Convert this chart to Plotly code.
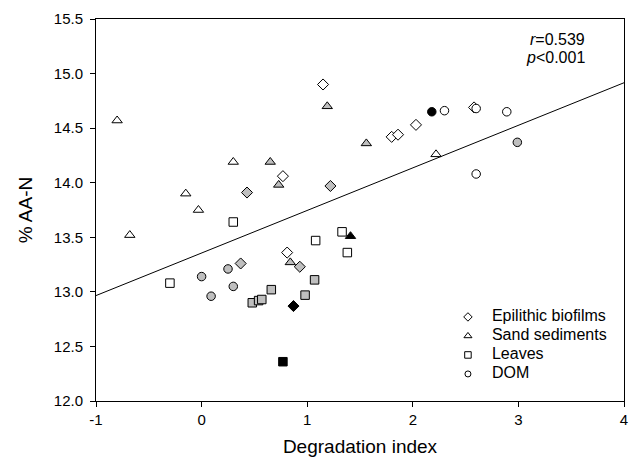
import plotly.graph_objects as go

# ---- data ----
epi_x = [1.15, 0.77, 0.81, 1.80, 1.86, 2.03, 2.58, 0.43, 1.22, 0.37, 0.93, 0.87]
epi_y = [14.90, 14.06, 13.36, 14.42, 14.44, 14.53, 14.69, 13.91, 13.97, 13.26, 13.23, 12.87]
epi_fill = ["open"] * 7 + ["gray"] * 4 + ["black"]

sand_x = [-0.80, 0.30, -0.15, -0.03, -0.68, 2.22, 1.19, 0.65, 0.73, 1.56, 0.84, 1.41]
sand_y = [14.57, 14.19, 13.90, 13.75, 13.52, 14.26, 14.70, 14.19, 13.98, 14.36, 13.27, 13.51]
sand_fill = ["open"] * 6 + ["gray"] * 5 + ["black"]

leaf_x = [0.30, -0.30, 1.08, 1.33, 1.38, 0.48, 0.54, 0.57, 0.66, 0.98, 1.07, 0.77]
leaf_y = [13.64, 13.08, 13.47, 13.55, 13.36, 12.90, 12.92, 12.93, 13.02, 12.97, 13.11, 12.36]
leaf_fill = ["open"] * 5 + ["gray"] * 6 + ["black"]

dom_x = [2.30, 2.60, 2.89, 2.60, 0.00, 0.09, 0.25, 0.30, 2.99, 2.18]
dom_y = [14.66, 14.68, 14.65, 14.08, 13.14, 12.96, 13.21, 13.05, 14.37, 14.65]
dom_fill = ["open"] * 4 + ["gray"] * 5 + ["black"]

categories = ["Epilithic biofilms", "Sand sediments", "Leaves", "DOM"]

reg_intercept = 13.356
reg_slope = 0.390
r_text = "0.539"
p_text = "0.001"

x_range = [-1, 4]
y_range = [12.0, 15.5]
x_tickvals = [-1, 0, 1, 2, 3, 4]
x_ticktext = ["-1", "0", "1", "2", "3", "4"]
y_tickvals = [12.0, 12.5, 13.0, 13.5, 14.0, 14.5, 15.0, 15.5]
y_ticktext = ["12.0", "12.5", "13.0", "13.5", "14.0", "14.5", "15.0", "15.5"]

# ---- styling ----
FONT = "Liberation Sans, Arial, sans-serif"
fill_colors = {"open": "white", "gray": "#bfbfbf", "black": "black"}

series = [
    (epi_x, epi_y, epi_fill, "diamond", 8.5),
    (sand_x, sand_y, sand_fill, "triangle-up", 9),
    (leaf_x, leaf_y, leaf_fill, "square", 8.5),
    (dom_x, dom_y, dom_fill, "circle", 8.5),
]
legend_sizes = [6.5, 7, 6.5, 6]

fig = go.Figure()

# regression line
fig.add_trace(go.Scatter(
    x=x_range, y=[reg_intercept + reg_slope * v for v in x_range],
    mode="lines", line=dict(color="black", width=1), showlegend=False,
    hoverinfo="skip"))

for (xs, ys, fills, sym, sz), name in zip(series, categories):
    fig.add_trace(go.Scatter(
        x=xs, y=ys, mode="markers", showlegend=False, name=name,
        marker=dict(symbol=sym, size=sz,
                    color=[fill_colors[f] for f in fills],
                    line=dict(color="black", width=1))))

for (xs, ys, fills, sym, sz), name, lsz in zip(series, categories, legend_sizes):
    fig.add_trace(go.Scatter(
        x=[None], y=[None], mode="markers",
        name='<span style="font-size:16px">' + name + '</span>',
        marker=dict(symbol=sym, size=lsz, color="white",
                    line=dict(color="black", width=1))))

axis_common = dict(
    showline=True, linecolor="black", linewidth=1, mirror=True,
    ticks="outside", ticklen=5, tickwidth=1, tickcolor="black",
    showgrid=False, zeroline=False,
    tickfont=dict(family=FONT, size=15, color="black"),
)

fig.update_xaxes(range=x_range, tickvals=x_tickvals, ticktext=x_ticktext,
                 title=dict(text="Degradation index",
                            font=dict(family=FONT, size=19, color="black"),
                            standoff=12),
                 **axis_common)
fig.update_yaxes(range=y_range, tickvals=y_tickvals, ticktext=y_ticktext,
                 ticklabelstandoff=4,
                 title=dict(text="% AA-N",
                            font=dict(family=FONT, size=19, color="black"),
                            standoff=16),
                 **axis_common)

fig.add_annotation(xref="paper", yref="paper", x=0.930, y=0.947,
                   xanchor="right", yanchor="middle", showarrow=False,
                   text="<i>r</i>=" + r_text,
                   font=dict(family=FONT, size=16, color="black"))
fig.add_annotation(xref="paper", yref="paper", x=0.930, y=0.898,
                   xanchor="right", yanchor="middle", showarrow=False,
                   text="<i>p</i>&lt;" + p_text,
                   font=dict(family=FONT, size=16, color="black"))

fig.update_layout(
    width=638, height=463,
    margin=dict(l=96, r=10, t=17, b=60),
    paper_bgcolor="white", plot_bgcolor="white",
    font=dict(family=FONT, color="black"),
    legend=dict(x=0.659, y=0.258, xanchor="left", yanchor="top",
                bgcolor="rgba(0,0,0,0)", borderwidth=0,
                font=dict(family=FONT, size=10, color="black"),
                itemwidth=38),
)

fig.write_html("out.html")
